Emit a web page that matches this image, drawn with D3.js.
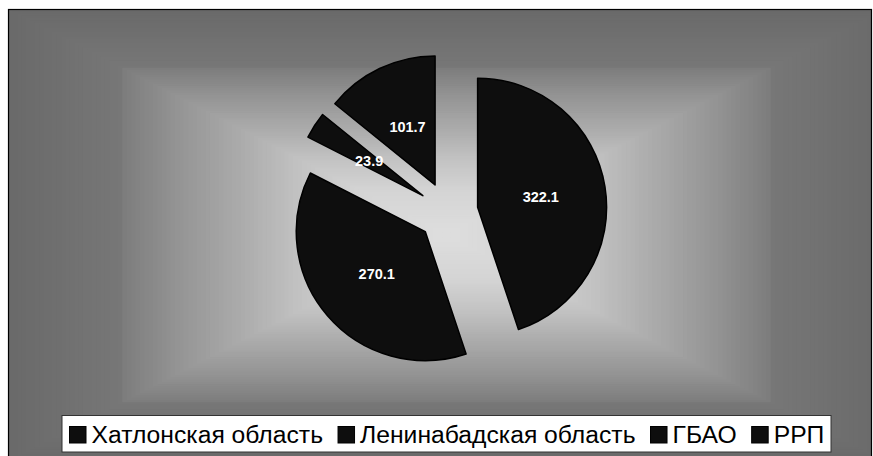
<!DOCTYPE html>
<html><head><meta charset="utf-8">
<script src="https://cdn.jsdelivr.net/npm/d3@7"></script>
<style>body{margin:0;background:#fff}svg{display:block}</style>
</head><body>
<svg id="chart" width="873" height="456"></svg>
<script>
const categories = ["Хатлонская область", "Ленинабадская область", "ГБАО", "РРП"];
const values = [322.1, 270.1, 23.9, 101.7];
const labels = ["322.1", "270.1", "23.9", "101.7"];

const W = 873, H = 456;
const svg = d3.select("#chart");

// chart area with rectangular "from centre" gradient
const area = {x0: 8.5, y0: 9.5, x1: 871.5, y1: 462};
const gcx = 446.5, gcy = 235;
const hw = 438, hh = 226;
svg.append("clipPath").attr("id", "clipArea").append("rect")
  .attr("x", area.x0).attr("y", area.y0).attr("width", area.x1 - area.x0).attr("height", area.y1 - area.y0);
const bg = svg.append("g").attr("clip-path", "url(#clipArea)");
const grey = d3.scaleLinear()
  .domain([0, 0.2, 0.33, 0.47, 0.63, 0.745, 0.75, 0.88, 1.05])
  .range([222, 212, 196, 172, 146, 124, 119, 112, 103])
  .clamp(true);
const N = 100;
d3.range(N, 0, -1).forEach(i => {
  const t = i / N;
  const v = Math.round(grey(t));
  bg.append("rect")
    .attr("x", gcx - hw * t).attr("y", gcy - hh * t)
    .attr("width", 2 * hw * t).attr("height", 2 * hh * t)
    .attr("fill", d3.rgb(v, v, v));
});
svg.append("rect").attr("x", area.x0).attr("y", area.y0)
  .attr("width", area.x1 - area.x0).attr("height", area.y1 - area.y0)
  .attr("fill", "none").attr("stroke", "#000").attr("stroke-width", 1.2);

// pie
const cx = 448, cy = 212, R = 129, explode = 30;
const pie = d3.pie().sort(null).startAngle(0).endAngle(2 * Math.PI);
const arcs = pie(values);
const arc = d3.arc().innerRadius(0).outerRadius(R);
const labelArc = d3.arc().innerRadius(64).outerRadius(64);
const g = svg.append("g").attr("transform", `translate(${cx},${cy})`);
const slices = g.selectAll("g.slice").data(arcs).enter().append("g")
  .attr("class", "slice")
  .attr("transform", d => {
    const a = (d.startAngle + d.endAngle) / 2;
    return `translate(${Math.sin(a) * explode},${-Math.cos(a) * explode})`;
  });
slices.append("path").attr("d", arc)
  .attr("fill", "#0e0e0e").attr("stroke", "#000").attr("stroke-width", 1.5)
  .attr("stroke-linejoin", "round");
slices.append("text")
  .attr("transform", d => `translate(${labelArc.centroid(d)})`)
  .attr("text-anchor", "middle").attr("dy", "0.36em")
  .attr("font-family", "Liberation Sans, Arial, sans-serif")
  .attr("font-weight", "bold").attr("font-size", 14.5)
  .attr("fill", "#fff")
  .text((d, i) => labels[i]);

// legend
const lg = {x: 62, y: 415.5, w: 769, h: 36.5};
svg.append("rect").attr("x", lg.x).attr("y", lg.y).attr("width", lg.w).attr("height", lg.h)
  .attr("fill", "#fff").attr("stroke", "#333").attr("stroke-width", 1);
const legend = svg.append("g");
let x = 69.5;
categories.forEach((c, i) => {
  legend.append("rect").attr("x", x).attr("y", 426.5).attr("width", 16.5).attr("height", 16.5)
    .attr("fill", "#0e0e0e").attr("stroke", "#000").attr("stroke-width", 1);
  const t = legend.append("text").attr("x", x + 22).attr("y", 443)
    .attr("font-family", "Liberation Sans, Arial, sans-serif").attr("font-size", 24.7)
    .attr("fill", "#000").text(c);
  x = x + 22 + t.node().getComputedTextLength() + 15;
});
</script>
</body></html>
